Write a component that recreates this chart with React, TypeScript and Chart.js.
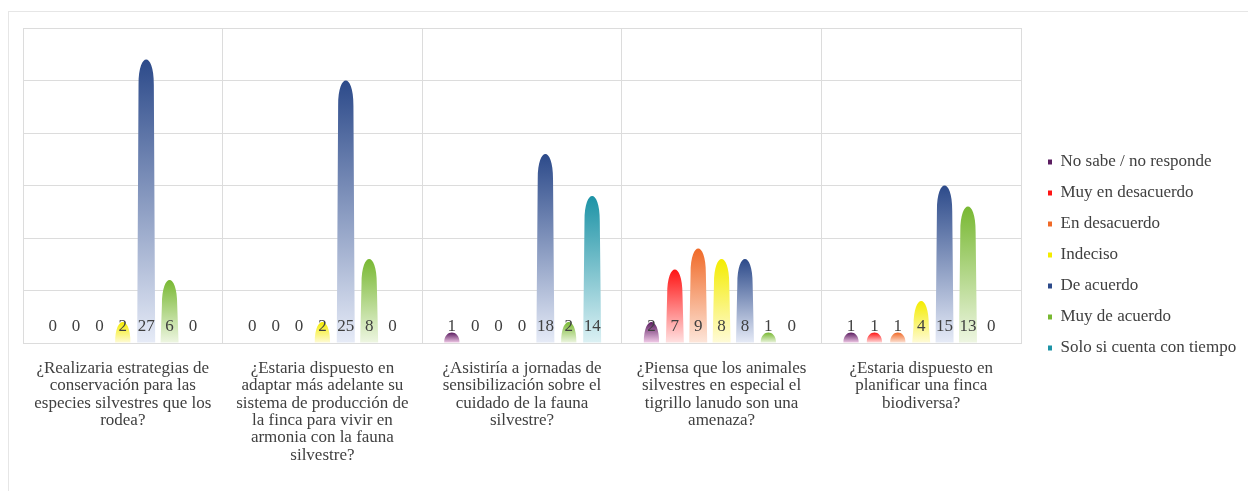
import { useEffect, useRef } from "react";
import { Chart, BarElement, registerables } from "chart.js";

Chart.register(...registerables);

// questions shown under the groups (already broken into lines)
const questions: string[][] = [
  ["¿Realizaria estrategias de", "conservación para las", "especies silvestres que los", "rodea?"],
  ["¿Estaria dispuesto en", "adaptar más adelante su", "sistema de producción de", "la finca para vivir en", "armonia con la fauna", "silvestre?"],
  ["¿Asistiría a jornadas de", "sensibilización sobre el", "cuidado de la fauna", "silvestre?"],
  ["¿Piensa que los animales", "silvestres en especial el", "tigrillo lanudo son una", "amenaza?"],
  ["¿Estaria dispuesto en", "planificar una finca", "biodiversa?"],
];

const answers = [
  "No sabe / no responde",
  "Muy en desacuerdo",
  "En desacuerdo",
  "Indeciso",
  "De acuerdo",
  "Muy de acuerdo",
  "Solo si cuenta con tiempo",
];

// one array per answer, one value per question
const noSabe = [0, 0, 1, 2, 1];
const muyDesacuerdo = [0, 0, 0, 7, 1];
const desacuerdo = [0, 0, 0, 9, 1];
const indeciso = [2, 2, 0, 8, 4];
const deAcuerdo = [27, 25, 18, 8, 15];
const muyDeAcuerdo = [6, 8, 2, 1, 13];
const soloTiempo = [0, 0, 14, 0, 0];

const yTicks = [0, 5, 10, 15, 20, 25, 30];

const tops = ["#5b1d60", "#ff1414", "#f06a28", "#f4ec00", "#2c4a8a", "#78b832", "#1d93a6"];
const bottoms = ["#f4cdea", "#ffe2e2", "#fde6da", "#fffbd8", "#e6ebf7", "#eef6e2", "#dcf1f4"];

const FONT = "'Liberation Serif', 'Times New Roman', serif";
const TEXT = "#404040";
const GRID = "#dcdcdc";

// bars are drawn as bullets: straight sides with a pointed, rounded head
BarElement.prototype.draw = function (this: any, ctx: CanvasRenderingContext2D) {
  const { x, y, base, width } = this.getProps(["x", "y", "base", "width"]);
  const h = base - y;
  if (!(h > 0)) return;
  const half = width / 2;
  const head = Math.min(h, width * 1.4);
  ctx.save();
  ctx.fillStyle = this.options.backgroundColor;
  ctx.beginPath();
  ctx.moveTo(x - half, base);
  ctx.lineTo(x - half * 0.85, y + head);
  ctx.bezierCurveTo(x - half * 0.85, y + head * 0.3, x - half * 0.4, y, x, y);
  ctx.bezierCurveTo(x + half * 0.4, y, x + half * 0.85, y + head * 0.3, x + half * 0.85, y + head);
  ctx.lineTo(x + half, base);
  ctx.closePath();
  ctx.fill();
  ctx.restore();
};

const gradientFill = (top: string, bottom: string) => (ctx: any) => {
  const chart = ctx.chart;
  if (ctx.type !== "data" || !chart.chartArea || !chart.scales.y) return top;
  const y = chart.scales.y;
  const y0 = y.getPixelForValue(ctx.raw);
  const y1 = y.getPixelForValue(0);
  if (!(y1 > y0)) return top;
  const g = chart.ctx.createLinearGradient(0, y0, 0, y1);
  g.addColorStop(0, top);
  g.addColorStop(1, bottom);
  return g;
};

// value labels drawn near the base of every bar
const baseLabels = {
  id: "baseLabels",
  afterDatasetsDraw(chart: any) {
    const ctx = chart.ctx;
    const base = chart.scales.y.getPixelForValue(0);
    ctx.save();
    ctx.font = `17px ${FONT}`;
    ctx.fillStyle = TEXT;
    ctx.textAlign = "center";
    ctx.textBaseline = "middle";
    chart.data.datasets.forEach((ds: any, i: number) => {
      const meta = chart.getDatasetMeta(i);
      meta.data.forEach((bar: any, j: number) => {
        ctx.fillText(String(ds.data[j]), bar.x, base - 16);
      });
    });
    ctx.restore();
  },
};

// keep the legend column at a fixed width and nudge its items right
const legendBox = {
  id: "legendBox",
  beforeLayout(chart: any) {
    const legend = chart.legend;
    if (!legend || legend._patched) return;
    legend._patched = true;
    const fit = legend.fit;
    legend.fit = function () {
      fit.call(this);
      this.width = 227;
    };
    const draw = legend.draw;
    legend.draw = function (...args: any[]) {
      this.ctx.save();
      this.ctx.translate(13, 0);
      draw.apply(this, args);
      this.ctx.restore();
    };
  },
};

const SurveyChart = () => {
  const canvasRef = useRef<HTMLCanvasElement>(null);

  useEffect(() => {
    if (!canvasRef.current) return;
    const series = [noSabe, muyDesacuerdo, desacuerdo, indeciso, deAcuerdo, muyDeAcuerdo, soloTiempo];

    const chart = new Chart(canvasRef.current, {
      type: "bar",
      data: {
        labels: questions,
        datasets: series.map((data, i) => ({
          label: answers[i],
          data,
          backgroundColor: gradientFill(tops[i], bottoms[i]),
          borderWidth: 0,
          categoryPercentage: 0.82,
          barPercentage: 0.77,
        })),
      },
      options: {
        responsive: true,
        maintainAspectRatio: false,
        animation: false,
        layout: { padding: { left: 23, top: 28, right: 0, bottom: 9 } },
        plugins: {
          tooltip: { enabled: false },
          legend: {
            position: "right",
            labels: {
              boxWidth: 4,
              boxHeight: 5,
              padding: 14,
              color: TEXT,
              font: { family: FONT, size: 17 },
              generateLabels: (c: any) =>
                Chart.defaults.plugins.legend.labels.generateLabels(c).map((item: any, i: number) => ({
                  ...item,
                  fillStyle: tops[i],
                  strokeStyle: tops[i],
                  lineWidth: 0,
                })),
            },
          },
        },
        scales: {
          x: {
            grid: { color: GRID, drawTicks: false },
            border: { color: GRID },
            ticks: {
              color: TEXT,
              padding: 17,
              maxRotation: 0,
              autoSkip: false,
              font: { family: FONT, size: 17, lineHeight: 1.02 },
            },
            afterFit: (scale: any) => {
              scale.height = 139;
            },
          },
          y: {
            min: 0,
            max: 30,
            afterBuildTicks: (scale: any) => {
              scale.ticks = yTicks.map((value) => ({ value }));
            },
            grid: { color: GRID, drawTicks: false },
            border: { display: false },
            ticks: { display: false },
            afterFit: (scale: any) => {
              scale.width = 0;
            },
          },
        },
      },
      plugins: [baseLabels, legendBox],
    });

    return () => {
      chart.destroy();
    };
  }, []);

  return <canvas ref={canvasRef} />;
};

export default function App() {
  return (
    <div
      style={{
        position: "absolute",
        left: 0,
        top: 0,
        width: 1248,
        height: 491,
        overflow: "hidden",
        background: "#ffffff",
      }}
    >
      <div
        style={{
          position: "absolute",
          left: 8,
          top: 11,
          width: 1300,
          height: 600,
          border: "1px solid #e6e6e6",
        }}
      />
      <div style={{ position: "absolute", left: 0, top: 0, width: 1248, height: 491 }}>
        <SurveyChart />
      </div>
    </div>
  );
}
